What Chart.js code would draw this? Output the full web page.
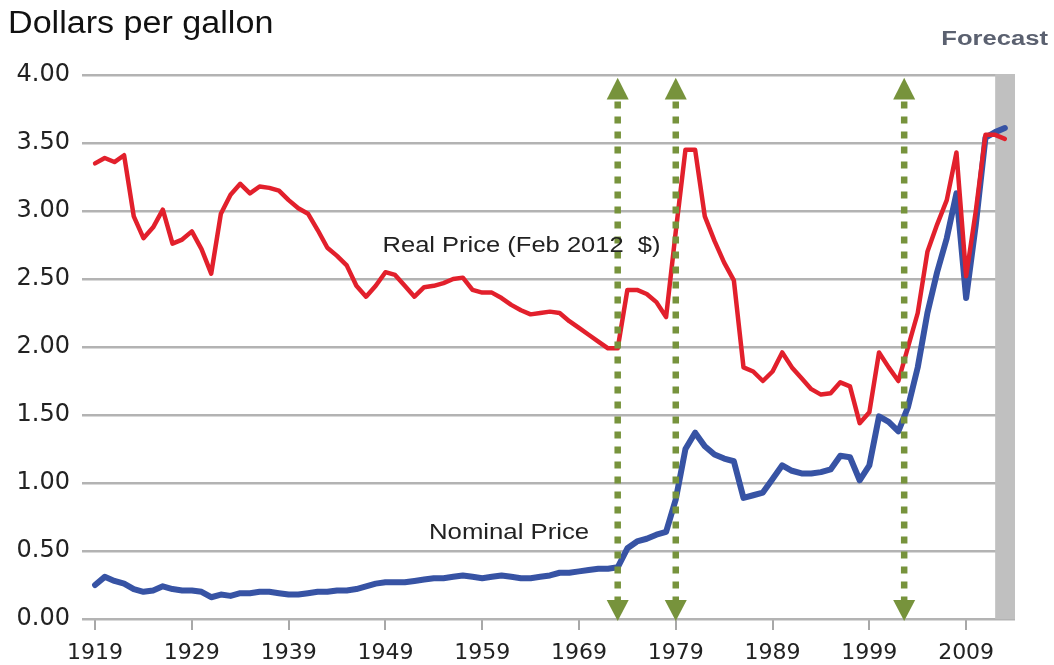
<!DOCTYPE html>
<html>
<head>
<meta charset="utf-8">
<title>Dollars per gallon</title>
<script src="https://cdn.jsdelivr.net/npm/chart.js@4/dist/chart.umd.min.js"></script>
<style>
  body { margin: 0; background: #fff; }
  #wrap { width: 1054px; height: 665px; }
</style>
</head>
<body>
<div id="wrap"><canvas id="priceChart" width="1054" height="665"></canvas></div>
<script>
// ------------ data ------------
const years = [];
for (let y = 1919; y <= 2013; y++) years.push(y);

const realPrice = [
  3.35, 3.39, 3.36, 3.41, 2.96, 2.80, 2.88, 3.01, 2.76, 2.79,
  2.85, 2.72, 2.54, 2.98, 3.12, 3.20, 3.13, 3.18, 3.17, 3.15,
  3.08, 3.02, 2.98, 2.86, 2.73, 2.67, 2.60, 2.45, 2.37, 2.45,
  2.55, 2.53, 2.45, 2.37, 2.44, 2.45, 2.47, 2.50, 2.51, 2.42,
  2.40, 2.40, 2.36, 2.31, 2.27, 2.24, 2.25, 2.26, 2.25, 2.19,
  2.14, 2.09, 2.04, 1.99, 1.99, 2.42, 2.42, 2.39, 2.33, 2.22,
  2.85, 3.45, 3.45, 2.96, 2.78, 2.62, 2.49, 1.85, 1.82, 1.75,
  1.82, 1.96, 1.85, 1.77, 1.69, 1.65, 1.66, 1.74, 1.71, 1.44,
  1.52, 1.96, 1.85, 1.75, 2.00, 2.25, 2.70, 2.90, 3.08, 3.43,
  2.52, 3.00, 3.56, 3.56, 3.53
];

const nominalPrice = [
  0.25, 0.31, 0.28, 0.26, 0.22, 0.20, 0.21, 0.24, 0.22, 0.21,
  0.21, 0.20, 0.16, 0.18, 0.17, 0.19, 0.19, 0.20, 0.20, 0.19,
  0.18, 0.18, 0.19, 0.20, 0.20, 0.21, 0.21, 0.22, 0.24, 0.26,
  0.27, 0.27, 0.27, 0.28, 0.29, 0.30, 0.30, 0.31, 0.32, 0.31,
  0.30, 0.31, 0.32, 0.31, 0.30, 0.30, 0.31, 0.32, 0.34, 0.34,
  0.35, 0.36, 0.37, 0.37, 0.38, 0.52, 0.57, 0.59, 0.62, 0.64,
  0.88, 1.25, 1.37, 1.27, 1.21, 1.18, 1.16, 0.89, 0.91, 0.93,
  1.03, 1.13, 1.09, 1.07, 1.07, 1.08, 1.10, 1.20, 1.19, 1.02,
  1.13, 1.49, 1.45, 1.38, 1.56, 1.85, 2.25, 2.55, 2.80, 3.13,
  2.36, 2.90, 3.54, 3.58, 3.61
];

const xTickYears = [1919, 1929, 1939, 1949, 1959, 1969, 1979, 1989, 1999, 2009];
const yTickValues = [0, 0.5, 1, 1.5, 2, 2.5, 3, 3.5, 4];
const arrowYears = [1973, 1979, 2002.6];
const forecastStart = 2012.0;

window.addEventListener('load', () => { main1() });

function main1() {

  const FONT = 'Liberation Sans, Arial, sans-serif';
  const TICK_FONT = 'DejaVu Sans, Liberation Sans, sans-serif';
  const GREEN = '#77933c';

  // text in the picture is a bit wider than Arial, so stretch it sideways
  function wideText(ctx, text, x, y, sx, align) {
    ctx.save();
    const w = ctx.measureText(text).width * sx;
    let left = x;
    if (align === 'right') left = x - w;
    ctx.translate(left, y);
    ctx.scale(sx, 1);
    ctx.textAlign = 'left';
    ctx.fillText(text, 0, 0);
    ctx.restore();
  }

  //------------ grey forecast band (over grid, under lines) ------------
  const forecastBand = {
    id: 'forecastBand',
    beforeDatasetsDraw(chart) {
      const { ctx, chartArea, scales } = chart;
      const x0 = scales.x.getPixelForValue(forecastStart);
      ctx.save();
      ctx.fillStyle = '#c0c0c0';
      ctx.fillRect(x0, chartArea.top - 1, chartArea.right - x0, chartArea.bottom - chartArea.top + 1);
      ctx.restore();
    }
  };

  //------------ green dotted double arrows ------------
  const arrows = {
    id: 'arrows',
    afterDatasetsDraw(chart) {
      const { ctx, scales } = chart;
      const yTopTip = scales.y.getPixelForValue(3.98);
      const yTopBase = scales.y.getPixelForValue(3.82);
      const yBotTip = scales.y.getPixelForValue(-0.015);
      const yBotBase = scales.y.getPixelForValue(0.14);
      ctx.save();
      ctx.strokeStyle = GREEN;
      ctx.fillStyle = GREEN;
      arrowYears.forEach(yr => {
        const x = scales.x.getPixelForValue(yr);
        ctx.lineWidth = 6.5;
        ctx.setLineDash([7, 8]);
        ctx.beginPath();
        ctx.moveTo(x, yTopBase + 2);
        ctx.lineTo(x, yBotBase);
        ctx.stroke();
        ctx.setLineDash([]);
        ctx.beginPath();
        ctx.moveTo(x, yTopTip);
        ctx.lineTo(x - 11, yTopBase);
        ctx.lineTo(x + 11, yTopBase);
        ctx.closePath();
        ctx.fill();
        ctx.beginPath();
        ctx.moveTo(x, yBotTip);
        ctx.lineTo(x - 11, yBotBase);
        ctx.lineTo(x + 11, yBotBase);
        ctx.closePath();
        ctx.fill();
      });
      ctx.restore();
    }
  };

  //------------ titles and series labels ------------
  const labels = {
    id: 'labels',
    afterDraw(chart) {
      const { ctx, scales } = chart;
      ctx.save();
      ctx.fillStyle = '#111';
      ctx.textBaseline = 'alphabetic';
      ctx.font = '31px ' + FONT;
      wideText(ctx, 'Dollars per gallon', 8, 33, 1.1, 'left');

      ctx.fillStyle = '#5b6170';
      ctx.font = 'bold 20px ' + FONT;
      wideText(ctx, 'Forecast', 1048, 45, 1.28, 'right');

      ctx.fillStyle = '#222';
      ctx.font = '22px ' + FONT;
      ctx.textBaseline = 'middle';
      wideText(ctx, 'Real Price (Feb 2012  $)', scales.x.getPixelForValue(1948.7), scales.y.getPixelForValue(2.74), 1.16, 'left');
      wideText(ctx, 'Nominal Price', scales.x.getPixelForValue(1953.5), scales.y.getPixelForValue(0.63), 1.17, 'left');
      ctx.restore();
    }
  };

  const ctx = document.getElementById('priceChart').getContext('2d');

  new Chart(ctx, {
    type: 'line',
    data: {
      labels: years,
      datasets: [
        {
          label: 'Real Price (Feb 2012 $)',
          data: years.map((y, i) => ({ x: y, y: realPrice[i] })),
          borderColor: '#e2202c',
          borderWidth: 4.5,
          pointRadius: 0,
          tension: 0,
          borderJoinStyle: 'round',
          borderCapStyle: 'round'
        },
        {
          label: 'Nominal Price',
          data: years.map((y, i) => ({ x: y, y: nominalPrice[i] })),
          borderColor: '#3753a4',
          borderWidth: 6,
          pointRadius: 0,
          tension: 0,
          borderJoinStyle: 'round',
          borderCapStyle: 'round'
        }
      ]
    },
    options: {
      responsive: false,
      animation: false,
      layout: { padding: { top: 75, right: 39, left: 0, bottom: 0 } },
      plugins: {
        legend: { display: false },
        tooltip: { enabled: false }
      },
      scales: {
        x: {
          type: 'linear',
          min: 1917.65,
          max: 2014.05,
          afterBuildTicks: (scale) => { scale.ticks = xTickYears.map(v => ({ value: v })); },
          afterFit: (scale) => { scale.height = 46; },
          border: { display: false },
          grid: { drawOnChartArea: false, drawTicks: true, tickLength: 11, color: '#a8a8a8', lineWidth: 2 },
          ticks: {
            callback: (v) => String(v),
            color: '#222',
            font: { family: TICK_FONT, size: 22 },
            padding: 10,
            maxRotation: 0,
            autoSkip: false
          }
        },
        y: {
          min: 0,
          max: 4,
          afterBuildTicks: (scale) => { scale.ticks = yTickValues.map(v => ({ value: v })); },
          afterFit: (scale) => { scale.width = 82; },
          border: { display: false },
          grid: { color: '#b3b3b3', lineWidth: 2.5, drawTicks: false },
          ticks: {
            callback: (v) => v.toFixed(2),
            color: '#222',
            font: { family: TICK_FONT, size: 24 },
            padding: 12
          }
        }
      }
    },
    plugins: [forecastBand, arrows, labels]
  });
}
</script>
</body>
</html>
